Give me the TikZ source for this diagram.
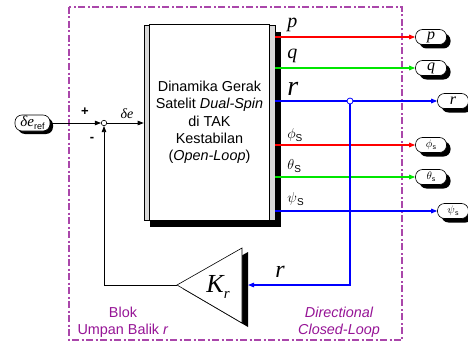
\documentclass[tikz,border=0pt]{standalone}
\usepackage{fontspec}
\setmainfont{Liberation Serif}
\setsansfont{Liberation Sans}
\usetikzlibrary{arrows.meta,shadows,calc}
\newcommand\myfs[1]{\fontsize{#1}{#1}\selectfont}
\definecolor{vio}{RGB}{170,70,170}
\definecolor{vtext}{RGB}{150,20,150}
\definecolor{grn}{RGB}{0,230,0}
\definecolor{rd}{RGB}{255,0,0}
\definecolor{bl}{RGB}{0,0,255}
\begin{document}
\begin{tikzpicture}[x=1pt,y=-1pt,
  >={Triangle[length=6pt,width=4.5pt]},
  line width=0.8pt,
  sig/.style={line width=1.2pt},
  shad/.style={drop shadow={shadow xshift=#1,shadow yshift=-#1,fill=black,opacity=1}},
  pill/.style={draw,fill=white,rounded corners=7pt,minimum width=31pt,minimum height=15pt,inner sep=0pt,line width=0.6pt,shad=4pt,font=\itshape\myfs{16}},
  gpill/.style={pill,font=\myfs{11}},
  olab/.style={anchor=base west,inner sep=0pt,font=\itshape\myfs{20}},
  glab/.style={anchor=base west,inner sep=0pt,font=\myfs{15}},
  blab/.style={text=vtext,align=center,inner sep=0pt,font=\sffamily\fontsize{14.4}{17}\selectfont},
]
\useasboundingbox (0,0) rectangle (468,345);
\draw[vio,line width=1.4pt,dash pattern=on 7pt off 2.5pt on 2pt off 2.5pt] (69,7) rectangle (402,340);

% plant block
\node[draw,fill=gray!30,minimum width=131pt,minimum height=195pt,inner sep=0pt,line width=0.6pt,
  drop shadow={shadow xshift=6pt,shadow yshift=-7pt,fill=black,opacity=1}] (plant) at (209.5,122.5) {};
\draw[fill=white,line width=0.6pt] ($(plant.north west)+(6,0)$) rectangle ($(plant.south east)+(-6,0)$);
\node[font=\sffamily\fontsize{14.4}{17.3}\selectfont,align=center] (ptext) at (plant.center)
  {Dinamika Gerak\\Satelit \textit{Dual-Spin}\\di TAK\\Kestabilan\\(\textit{Open-Loop})};

% input
\node[draw,fill=white,rounded corners=7pt,minimum width=35pt,minimum height=16pt,inner sep=0pt,line width=0.6pt,shad=3pt] (ref) at (32.5,123)
  {\itshape\myfs{15}δe\raisebox{-3pt}{\upshape\sffamily\myfs{9}ref}};
\node[circle,draw,fill=white,inner sep=0pt,minimum size=5.5pt,line width=0.6pt] (sum) at (104,123) {};
\draw[->] (ref) -- (sum);
\draw[->] (sum) -- (sum -| plant.west);
\node[font=\sffamily\bfseries\myfs{13}] (plus) at (85,112) {+};
\node[font=\sffamily\bfseries\myfs{13}] (minus) at (92,139) {-};
\node[font=\itshape\myfs{14}] (de) at (127,114) {δe};

% outputs
\coordinate (op) at (275,37);
\coordinate (oq) at (275,68);
\coordinate (or) at (275,101);
\coordinate (ophi) at (275,145);
\coordinate (oth) at (275,177);
\coordinate (opsi) at (275,211);

\node[pill] (pp) at (431,37) {p};
\node[pill] (pq) at (431,68) {q};
\node[pill] (pr) at (453,101) {r};
\node[gpill] (pphi) at (431,145) {$\phi$\raisebox{-2pt}{\sffamily\myfs{7}s}};
\node[gpill] (pth) at (431,177) {$\theta$\raisebox{-2pt}{\sffamily\myfs{7}s}};
\node[gpill] (ppsi) at (453,211) {$\psi$\raisebox{-2pt}{\sffamily\myfs{7}s}};

\draw[sig,rd,->] (op) -- (pp);
\draw[sig,grn,->] (oq) -- (pq);
\draw[sig,bl,->] (or) -- (pr);
\draw[sig,rd,->] (ophi) -- (pphi);
\draw[sig,grn,->] (oth) -- (pth);
\draw[sig,bl,->] (opsi) -- (ppsi);

\node[olab] (lp) at (287,27.5) {p};
\node[olab] (lq) at (287,58.5) {q};
\node[olab,font=\itshape\myfs{28}] (lr) at (287,95) {r};
\node[glab] (lphi) at (287,138) {$\phi$\raisebox{-3pt}{\sffamily\myfs{10}S}};
\node[glab] (lth) at (287,169) {$\theta$\raisebox{-3pt}{\sffamily\myfs{10}S}};
\node[glab] (lpsi) at (287,202) {$\psi$\raisebox{-3pt}{\sffamily\myfs{10}S}};

% feedback gain
\coordinate (ktip) at (177,285);
\coordinate (ktop) at (242,248);
\coordinate (kbot) at (242,323);
\coordinate (kin) at (248,285);
\fill[black] ($(ktip)+(6,4)$) -- ($(ktop)+(6,4)$) -- ($(kbot)+(6,4)$) -- cycle;
\draw[fill=white,line width=0.6pt] (ktip) -- (ktop) -- (kbot) -- cycle;
\node[inner sep=0pt] (K) at (218,287) {\itshape\myfs{26}K\raisebox{-6pt}{\myfs{15}r}};

\node[circle,draw=bl,fill=white,inner sep=0pt,minimum size=6pt,line width=0.8pt] (jr) at (350,101) {};
\draw[sig,bl,->] (jr) |- (kin);
\node[font=\itshape\myfs{24},inner sep=0pt] (lr2) at (280,272) {r};
\draw[->] (ktip) -| (sum);

% bottom labels
\node[blab] (blok) at (123,322) {Blok\\Umpan Balik \textit{r}};
\node[blab,font=\sffamily\itshape\fontsize{14.4}{17}\selectfont] (dcl) at (339,322) {Directional\\Closed-Loop};
\end{tikzpicture}
\end{document}
